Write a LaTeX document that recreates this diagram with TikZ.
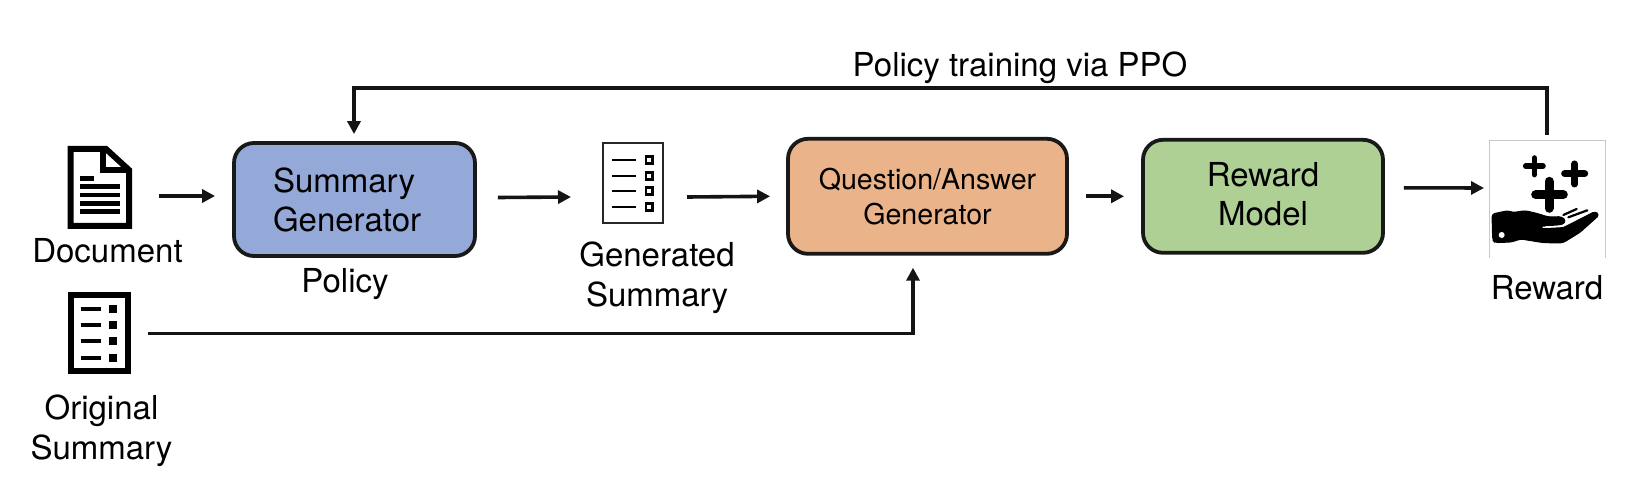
\documentclass[tikz,border=0pt]{standalone}
\usepackage{fontspec}
\setmainfont{TeX Gyre Heros}
\usetikzlibrary{arrows.meta}
\definecolor{sgblue}{HTML}{94A9D8}
\definecolor{qaorange}{HTML}{EAB38A}
\definecolor{rmgreen}{HTML}{AFD095}
\definecolor{iconedge}{HTML}{C8C8C8}
\tikzset{
  x=1pt,y=-1pt,
  procbox/.style={draw=black!90,line width=3.8pt,rounded corners=20pt,align=center,inner sep=0pt},
  lbl/.style={inner sep=0pt,anchor=base,align=center,font=\fontsize{33}{39}\selectfont},
  big/.style={font=\fontsize{33}{39}\selectfont},
  small/.style={font=\fontsize{28.6}{35}\selectfont},
  arr/.style={-{Triangle[length=13pt,width=13pt]},line width=3.6pt,black!92},
  iconbox/.style={inner sep=0pt,outer sep=0pt},
  plus/.style={line width=#1,line cap=round},
}
\begin{document}
\begin{tikzpicture}
\useasboundingbox (0,0) rectangle (1646,486);

% boxes
\node[procbox,big,fill=sgblue,minimum width=241pt,minimum height=113pt,text width=163pt,align=left] (sg) at (354.5,199.5) {Summary\\Generator\par\vspace{2pt}};
\node[procbox,small,fill=qaorange,minimum width=279pt,minimum height=115pt] (qa) at (927.5,196.3) {Question/Answer\\Generator};
\node[procbox,big,fill=rmgreen,minimum width=240pt,minimum height=113pt,text depth=4pt] (rm) at (1263,196.3) {Reward\\Model};

% document icon
\node[iconbox,minimum width=64pt,minimum height=83pt] (doc) at (99.7,187.5) {};
\draw[line width=6pt,miter limit=10] (70.7,149) -- (106,149) -- (129,170) -- (129,226) -- (70.7,226) -- cycle;
\draw[line width=5.5pt] (103,148) -- (103,170) -- (130,170);
\draw[line width=4.2pt] (80,178.5) -- (93.5,178.5);
\foreach \yy in {186.5,195,203.5,211.5} \draw[line width=4.2pt] (80,\yy) -- (119.5,\yy);

% original summary icon
\node[iconbox,draw,line width=6pt,minimum width=57pt,minimum height=76pt] (orig) at (99,333.3) {};
\foreach \yy in {308.7,325,341.3,358}{
  \draw[line width=4pt] (80.7,\yy) -- (101,\yy);
  \fill (109.3,\yy-4) rectangle (117.3,\yy+4);
}

% generated summary icon
\node[iconbox,draw=black!85,line width=2.2pt,minimum width=60pt,minimum height=80pt] (gen) at (633,183) {};
\foreach \yy in {160,176,191,207}{
  \draw[line width=2pt] (612,\yy) -- (636,\yy);
  \draw[line width=2.4pt] (646,\yy-3.5) rectangle (652.5,\yy+3.5);
}

% reward icon
\node[iconbox,minimum width=116pt,minimum height=117pt] (rew) at (1547,199.5) {};
\draw[iconedge,line width=1pt] (rew.south west) -- (rew.north west) -- (rew.north east) -- (rew.south east);
\begin{scope}[shift={(1480,100)},x=0.3333pt,y=-0.3333pt]
  \draw[plus=5.5pt] (137,198) -- (189,198) (163,174) -- (163,224);
  \draw[plus=7pt] (254,221) -- (314,221) (284,192) -- (284,252);
  \draw[plus=9pt] (167,284) -- (250,284) (207,244) -- (207,325);
  \fill[rounded corners=3pt,draw,line width=1pt,line join=round]
    (36,342) -- (85,332) -- (97,338) -- (135,332) -- (170,340) -- (205,351) -- (245,350) -- (258,362) -- (248,374) -- (188,378)
    -- (188,386) -- (250,383) -- (346,334) -- (358,345) -- (300,397) -- (248,429) -- (190,428) -- (122,417) -- (95,426) -- (45,428) -- (38,420) -- cycle;
  \draw[white,line width=1.2pt] (188,382) -- (252,378);
  \fill[white] (65,405) circle[radius=9];
  \draw[line width=2.2pt,line cap=round] (250,345) -- (290,327);
  \draw[line width=2.2pt,line cap=round] (265,352) -- (322,331);
\end{scope}

% labels
\node[lbl] (ldoc) at (107.5,262.5) {Document};
\node[lbl] (lorig) at (101.5,419) {Original};
\node[lbl] (lorig2) at (101.5,459) {Summary};
\node[lbl] (lpol) at (345,292) {Policy};
\node[lbl] (lgen) at (657,267) {Generated};
\node[lbl] (lgen2) at (657,306) {Summary};
\node[lbl] (lrew) at (1547,300) {Reward};
\node[lbl] (ltrain) at (1020,77) {Policy training via PPO};

% connectors
\draw[arr] ([shift={(27pt,-8.5pt)}]doc.east) -- ([shift={(-17pt,3.5pt)}]sg.west);
\draw[arr] ([shift={(21pt,2pt)}]sg.east) -- ([shift={(-32pt,-14pt)}]gen.west);
\draw[arr] ([shift={(24pt,-14pt)}]gen.east) -- ([shift={(-16pt,0pt)}]qa.west);
\draw[arr] ([shift={(17pt,0pt)}]qa.east) -- ([shift={(-17pt,0pt)}]rm.west);
\draw[arr] ([shift={(19pt,8.5pt)}]rm.east) -- ([shift={(-5pt,11.5pt)}]rew.west);
\draw[arr] ([shift={(0pt,-0.3pt)}]orig.east) ++(20pt,0pt) -| ([shift={(-14.5pt,-12pt)}]qa.south);
\draw[arr] ([yshift=6pt]rew.north) |- (354,88) -- ([shift={(-0.5pt,7pt)}]sg.north);
\end{tikzpicture}
\end{document}
